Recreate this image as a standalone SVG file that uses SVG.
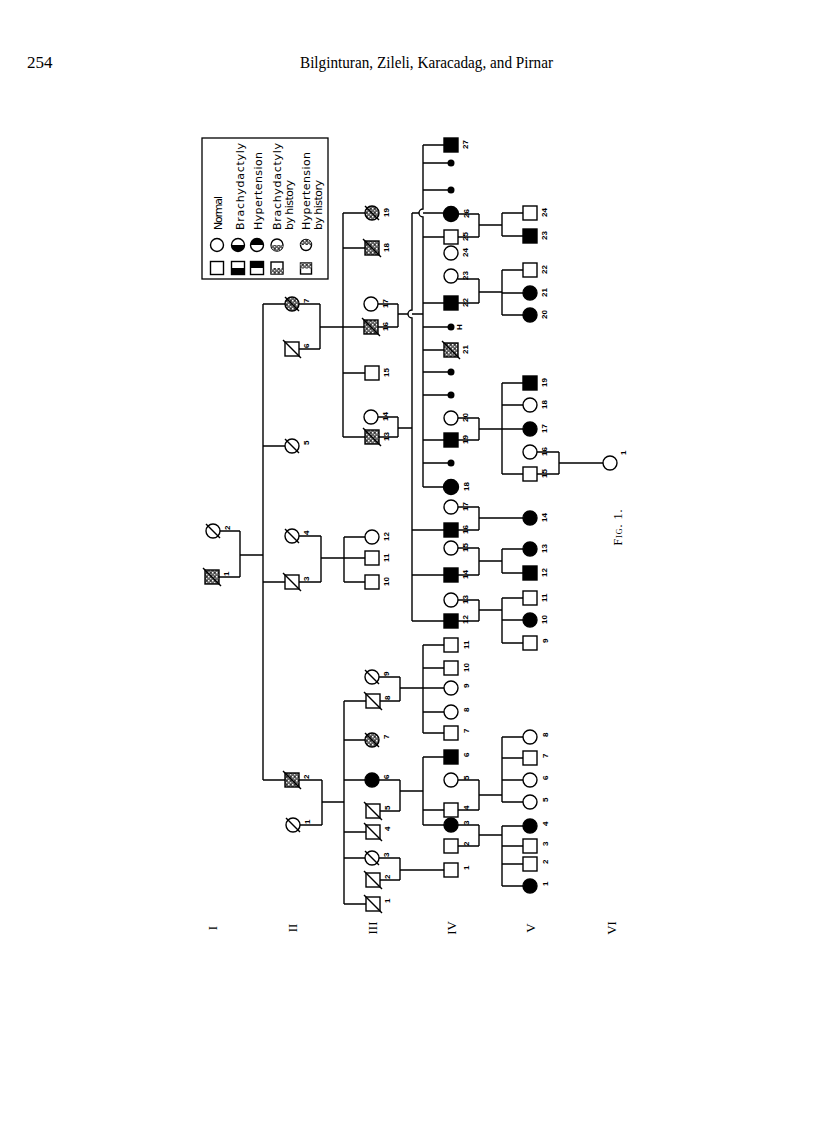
<svg xmlns="http://www.w3.org/2000/svg" width="816" height="1142" viewBox="0 0 816 1142">
<defs>
<pattern id="st" width="4" height="4" patternUnits="userSpaceOnUse">
<rect width="4" height="4" fill="#666"/>
<rect x="0" y="0" width="1.4" height="1.4" fill="#fff"/>
<rect x="2" y="2" width="1.2" height="1.2" fill="#ddd"/>
<rect x="2.2" y="0.2" width="1.2" height="1.2" fill="#111"/>
</pattern>
<style>
.s{fill:#fff;stroke:#000;stroke-width:1.4}
.f{fill:#000;stroke:#000;stroke-width:1.4}
.h{fill:url(#st);stroke:#000;stroke-width:1.4}
.x{stroke:#000;stroke-width:1.4}
.d{fill:#000}
.t{font-family:"Liberation Sans",Arial,sans-serif;font-weight:bold;font-size:8px;fill:#000}
.g{font-family:"Liberation Serif","Times New Roman",serif;font-size:13px;fill:#000}
.hd{font-family:"Liberation Serif","Times New Roman",serif;font-size:17px;fill:#000}
.lg{font-family:"DejaVu Sans",sans-serif;font-size:11px;fill:#000}
.c path{fill:none;stroke:#000;stroke-width:1.4}
</style>
</defs>
<rect width="816" height="1142" fill="#fff"/>

<g id="header">
<text class="hd" x="27" y="68">254</text>
<text class="hd" x="300" y="68" textLength="253" lengthAdjust="spacingAndGlyphs">Bilginturan, Zileli, Karacadag, and Pirnar</text>
</g>

<g id="legend">
<rect x="202" y="138" width="126" height="141" fill="none" stroke="#000" stroke-width="1.3"/>
<circle class="s" cx="217" cy="245" r="6.5"/>
<rect class="s" x="210.5" y="261.5" width="13" height="13"/>
<circle class="s" cx="238" cy="245" r="6.5"/>
<path d="M231.5,245 A6.5,6.5 0 0 0 244.5,245 Z" fill="#000"/>
<rect class="s" x="231.5" y="261.5" width="13" height="13"/>
<rect x="231.5" y="268" width="13" height="6.5" fill="#000"/>
<circle class="s" cx="257" cy="245" r="6.5"/>
<path d="M250.5,245 A6.5,6.5 0 0 1 263.5,245 Z" fill="#000"/>
<rect class="s" x="250.5" y="261.5" width="13" height="13"/>
<rect x="250.5" y="261.5" width="13" height="6.5" fill="#000"/>
<circle class="s" cx="277" cy="245" r="6"/>
<path d="M271,245 A6,6 0 0 0 283,245 Z" fill="url(#st)"/>
<rect class="s" x="271" y="262" width="12" height="12"/>
<rect x="271" y="268" width="12" height="6" fill="url(#st)"/>
<circle class="s" cx="306" cy="245" r="5.5"/>
<path d="M300.5,245 A5.5,5.5 0 0 1 311.5,245 Z" fill="url(#st)"/>
<rect class="s" x="300.5" y="263" width="11" height="11"/>
<rect x="300.5" y="263" width="11" height="5.5" fill="url(#st)"/>
<text class="lg" transform="translate(222,230) rotate(-90)" textLength="34">Normal</text>
<text class="lg" transform="translate(244,230) rotate(-90)" textLength="87">Brachydactyly</text>
<text class="lg" transform="translate(262,230) rotate(-90)" textLength="78">Hypertension</text>
<text class="lg" transform="translate(281,230) rotate(-90)" textLength="87">Brachydactyly</text>
<text class="lg" transform="translate(293,230) rotate(-90)" textLength="50">by history</text>
<text class="lg" transform="translate(310,230) rotate(-90)" textLength="78">Hypertension</text>
<text class="lg" transform="translate(322,230) rotate(-90)" textLength="50">by history</text>
</g>

<g id="generations">
<text class="g" text-anchor="middle" transform="translate(217,928) rotate(-90)">I</text>
<text class="g" text-anchor="middle" transform="translate(297,928) rotate(-90)">II</text>
<text class="g" text-anchor="middle" transform="translate(377,928) rotate(-90)">III</text>
<text class="g" text-anchor="middle" transform="translate(456,928) rotate(-90)">IV</text>
<text class="g" text-anchor="middle" transform="translate(535,928) rotate(-90)">V</text>
<text class="g" text-anchor="middle" transform="translate(616,928) rotate(-90)">VI</text>
</g>

<g id="caption">
<text class="g" style="font-size:12px;font-variant:small-caps;letter-spacing:1px" text-anchor="middle" transform="translate(622,527) rotate(-90)">Fig. 1.</text>
</g>

<g class="c" id="connectors">
<path d="M220,531H240 M219,577H240 M240,531V577 M240,555H263"/>
<path d="M263,304V780 M263,304H285 M263,446H285 M263,582H285 M263,780H285"/>
<path d="M299,304H320 M299,349H320 M320,304V349 M320,327H343"/>
<path d="M299,536H321 M299,582H321 M321,536V582 M321,558H344"/>
<path d="M299,780H322 M300,825H322 M322,780V825 M322,802H344"/>
<path d="M343,213V437 M343,213H365 M343,248H365 M343,327H364 M343,373H365 M343,437H365"/>
<path d="M378,304H398 M378,327H398 M398,304V327 M398,314H408 M412,314H423"/>
<path d="M378,417H398 M379,437H398 M398,417V437 M398,428H412"/>
<path d="M344,537V582 M344,537H365 M344,558H365 M344,582H365"/>
<path d="M344,701V904 M344,701H366 M344,740H365 M344,780H365 M344,832H366 M344,858H365 M344,904H366"/>
<path d="M379,677H400 M380,701H400 M400,677V701 M400,688H423"/>
<path d="M379,780H400 M380,811H400 M400,780V811 M400,791H423"/>
<path d="M379,858H400 M380,880H400 M400,858V880 M400,870H444"/>
<path d="M423,645V733 M423,645H444 M423,668H444 M423,688H444 M423,712H444 M423,733H444"/>
<path d="M423,757V825 M423,757H444 M423,810H444 M423,825H444"/>
<path d="M412,213V310 A4,4 0 0 0 412,318 V621 M412,213H419 M423,213H443 M412,530H444 M412,575H444 M412,621H444"/>
<path d="M423,145V209 A4,4 0 0 0 423,217 V487 M423,145H444 M423,163H448 M423,190H448 M423,237H444 M423,303H444 M423,327H448 M423,350H444 M423,372H448 M423,395H448 M423,440H444 M423,463H448 M423,487H443"/>
<path d="M459,214H479 M458,237H479 M479,214V237 M479,225H502 M502,213V236 M502,213H523 M502,236H523"/>
<path d="M458,279H479 M458,303H479 M479,279V303 M479,292H502 M502,270V315 M502,270H523 M502,293H523 M502,315H523"/>
<path d="M458,418H479 M458,440H479 M479,418V440 M479,429H502 M502,383V474 M502,383H523 M502,405H523 M502,429H523 M502,474H523"/>
<path d="M537,452H559 M537,474H559 M559,452V474 M559,463H603"/>
<path d="M458,507H479 M458,530H479 M479,507V530 M479,518H523"/>
<path d="M458,548H479 M458,575H479 M479,548V575 M479,561H502 M502,549V573 M502,549H523 M502,573H523"/>
<path d="M458,600H479 M458,621H479 M479,600V621 M479,610H502 M502,598V643 M502,598H523 M502,620H523 M502,643H523"/>
<path d="M458,780H479 M458,810H479 M479,780V810 M479,795H502 M502,737V802 M502,737H523 M502,758H523 M502,780H523 M502,802H523"/>
<path d="M458,825H479 M458,846H479 M479,825V846 M479,835H502 M502,826V886 M502,826H523 M502,846H523 M502,864H523 M502,886H523"/>
</g>

<g id="I-1"><rect class="h" x="205" y="570" width="14" height="14"/><line class="x" x1="203" y1="568" x2="221" y2="586"/><text class="t" transform="translate(229,576) rotate(-90)">1</text></g>
<g id="I-2"><circle class="s" cx="213" cy="531" r="7"/><line class="x" x1="206" y1="524" x2="220" y2="538"/><text class="t" transform="translate(230,530) rotate(-90)">2</text></g>

<g id="II-1"><circle class="s" cx="293" cy="825" r="7"/><line class="x" x1="286" y1="818" x2="300" y2="832"/><text class="t" transform="translate(310,824) rotate(-90)">1</text></g>
<g id="II-2"><rect class="h" x="285" y="773" width="14" height="14"/><line class="x" x1="283" y1="771" x2="301" y2="789"/><text class="t" transform="translate(309,779) rotate(-90)">2</text></g>
<g id="II-3"><rect class="s" x="285" y="575" width="14" height="14"/><line class="x" x1="283" y1="573" x2="301" y2="591"/><text class="t" transform="translate(309,581) rotate(-90)">3</text></g>
<g id="II-4"><circle class="s" cx="292" cy="536" r="7"/><line class="x" x1="285" y1="529" x2="299" y2="543"/><text class="t" transform="translate(309,535) rotate(-90)">4</text></g>
<g id="II-5"><circle class="s" cx="292" cy="446" r="7"/><line class="x" x1="285" y1="439" x2="299" y2="453"/><text class="t" transform="translate(309,445) rotate(-90)">5</text></g>
<g id="II-6"><rect class="s" x="285" y="342" width="14" height="14"/><line class="x" x1="283" y1="340" x2="301" y2="358"/><text class="t" transform="translate(309,348) rotate(-90)">6</text></g>
<g id="II-7"><circle class="h" cx="292" cy="304" r="7"/><line class="x" x1="285" y1="297" x2="299" y2="311"/><text class="t" transform="translate(309,303) rotate(-90)">7</text></g>

<g id="III-1"><rect class="s" x="366" y="897" width="14" height="14"/><line class="x" x1="364" y1="895" x2="382" y2="913"/><text class="t" transform="translate(390,903) rotate(-90)">1</text></g>
<g id="III-2"><rect class="s" x="366" y="873" width="14" height="14"/><line class="x" x1="364" y1="871" x2="382" y2="889"/><text class="t" transform="translate(390,879) rotate(-90)">2</text></g>
<g id="III-3"><circle class="s" cx="372" cy="858" r="7"/><line class="x" x1="365" y1="851" x2="379" y2="865"/><text class="t" transform="translate(389,857) rotate(-90)">3</text></g>
<g id="III-4"><rect class="s" x="366" y="825" width="14" height="14"/><line class="x" x1="364" y1="823" x2="382" y2="841"/><text class="t" transform="translate(390,831) rotate(-90)">4</text></g>
<g id="III-5"><rect class="s" x="366" y="804" width="14" height="14"/><line class="x" x1="364" y1="802" x2="382" y2="820"/><text class="t" transform="translate(390,810) rotate(-90)">5</text></g>
<g id="III-6"><circle class="f" cx="372" cy="780" r="7"/><text class="t" transform="translate(389,779) rotate(-90)">6</text></g>
<g id="III-7"><circle class="h" cx="372" cy="740" r="7"/><line class="x" x1="365" y1="733" x2="379" y2="747"/><text class="t" transform="translate(389,739) rotate(-90)">7</text></g>
<g id="III-8"><rect class="s" x="366" y="694" width="14" height="14"/><line class="x" x1="364" y1="692" x2="382" y2="710"/><text class="t" transform="translate(390,700) rotate(-90)">8</text></g>
<g id="III-9"><circle class="s" cx="372" cy="677" r="7"/><line class="x" x1="365" y1="670" x2="379" y2="684"/><text class="t" transform="translate(389,676) rotate(-90)">9</text></g>
<g id="III-10"><rect class="s" x="365" y="575" width="14" height="14"/><text class="t" transform="translate(389,586) rotate(-90)">10</text></g>
<g id="III-11"><rect class="s" x="365" y="551" width="14" height="14"/><text class="t" transform="translate(389,562) rotate(-90)">11</text></g>
<g id="III-12"><circle class="s" cx="372" cy="537" r="7"/><text class="t" transform="translate(389,541) rotate(-90)">12</text></g>
<g id="III-13"><rect class="h" x="365" y="430" width="14" height="14"/><line class="x" x1="363" y1="428" x2="381" y2="446"/><text class="t" transform="translate(389,441) rotate(-90)">13</text></g>
<g id="III-14"><circle class="s" cx="371" cy="417" r="7"/><text class="t" transform="translate(388,421) rotate(-90)">14</text></g>
<g id="III-15"><rect class="s" x="365" y="366" width="14" height="14"/><text class="t" transform="translate(389,377) rotate(-90)">15</text></g>
<g id="III-16"><rect class="h" x="364" y="320" width="14" height="14"/><line class="x" x1="362" y1="318" x2="380" y2="336"/><text class="t" transform="translate(388,331) rotate(-90)">16</text></g>
<g id="III-17"><circle class="s" cx="371" cy="304" r="7"/><text class="t" transform="translate(388,308) rotate(-90)">17</text></g>
<g id="III-18"><rect class="h" x="365" y="241" width="14" height="14"/><line class="x" x1="363" y1="239" x2="381" y2="257"/><text class="t" transform="translate(389,252) rotate(-90)">18</text></g>
<g id="III-19"><circle class="h" cx="372" cy="213" r="7"/><line class="x" x1="365" y1="206" x2="379" y2="220"/><text class="t" transform="translate(389,217) rotate(-90)">19</text></g>

<g id="IV-1"><rect class="s" x="444" y="863" width="14" height="14"/><text class="t" transform="translate(469,870) rotate(-90)">1</text></g>
<g id="IV-2"><rect class="s" x="444" y="839" width="14" height="14"/><text class="t" transform="translate(469,846) rotate(-90)">2</text></g>
<g id="IV-3"><circle class="f" cx="451" cy="825" r="7"/><text class="t" transform="translate(469,825) rotate(-90)">3</text></g>
<g id="IV-4"><rect class="s" x="444" y="803" width="14" height="14"/><text class="t" transform="translate(469,810) rotate(-90)">4</text></g>
<g id="IV-5"><circle class="s" cx="451" cy="780" r="7"/><text class="t" transform="translate(469,780) rotate(-90)">5</text></g>
<g id="IV-6"><rect class="f" x="444" y="750" width="14" height="14"/><text class="t" transform="translate(469,757) rotate(-90)">6</text></g>
<g id="IV-7"><rect class="s" x="444" y="726" width="14" height="14"/><text class="t" transform="translate(469,733) rotate(-90)">7</text></g>
<g id="IV-8"><circle class="s" cx="451" cy="712" r="7"/><text class="t" transform="translate(469,712) rotate(-90)">8</text></g>
<g id="IV-9"><circle class="s" cx="451" cy="688" r="7"/><text class="t" transform="translate(469,688) rotate(-90)">9</text></g>
<g id="IV-10"><rect class="s" x="444" y="661" width="14" height="14"/><text class="t" transform="translate(469,672) rotate(-90)">10</text></g>
<g id="IV-11"><rect class="s" x="444" y="638" width="14" height="14"/><text class="t" transform="translate(469,649) rotate(-90)">11</text></g>
<g id="IV-12"><rect class="f" x="444" y="614" width="14" height="14"/><text class="t" transform="translate(468,624) rotate(-90)">12</text></g>
<g id="IV-13"><circle class="s" cx="451" cy="600" r="7"/><text class="t" transform="translate(468,604) rotate(-90)">13</text></g>
<g id="IV-14"><rect class="f" x="444" y="568" width="14" height="14"/><text class="t" transform="translate(468,579) rotate(-90)">14</text></g>
<g id="IV-15"><circle class="s" cx="451" cy="548" r="7"/><text class="t" transform="translate(468,552) rotate(-90)">15</text></g>
<g id="IV-16"><rect class="f" x="444" y="523" width="14" height="14"/><text class="t" transform="translate(468,534) rotate(-90)">16</text></g>
<g id="IV-17"><circle class="s" cx="451" cy="507" r="7"/><text class="t" transform="translate(468,511) rotate(-90)">17</text></g>
<g id="IV-18"><circle class="f" cx="451" cy="487" r="7.5"/><text class="t" transform="translate(469,491) rotate(-90)">18</text></g>
<g id="IV-d1"><circle class="d" cx="451" cy="463" r="3.5"/></g>
<g id="IV-19"><rect class="f" x="444" y="433" width="14" height="14"/><text class="t" transform="translate(468,444) rotate(-90)">19</text></g>
<g id="IV-20"><circle class="s" cx="451" cy="418" r="7"/><text class="t" transform="translate(468,422) rotate(-90)">20</text></g>
<g id="IV-d2"><circle class="d" cx="451" cy="395" r="3.5"/></g>
<g id="IV-d3"><circle class="d" cx="451" cy="372" r="3.5"/></g>
<g id="IV-21"><rect class="h" x="444" y="343" width="14" height="14"/><line class="x" x1="442" y1="341" x2="460" y2="359"/><text class="t" transform="translate(468,354) rotate(-90)">21</text></g>
<g id="IV-dH"><circle class="d" cx="451" cy="327" r="3.5"/><text class="t" transform="translate(462,330) rotate(-90)">H</text></g>
<g id="IV-22"><rect class="f" x="444" y="296" width="14" height="14"/><text class="t" transform="translate(468,307) rotate(-90)">22</text></g>
<g id="IV-23"><circle class="s" cx="451" cy="276" r="7"/><text class="t" transform="translate(468,280) rotate(-90)">23</text></g>
<g id="IV-24"><circle class="s" cx="451" cy="253" r="7"/><text class="t" transform="translate(468,257) rotate(-90)">24</text></g>
<g id="IV-25"><rect class="s" x="444" y="230" width="14" height="14"/><text class="t" transform="translate(468,241) rotate(-90)">25</text></g>
<g id="IV-26"><circle class="f" cx="451" cy="214" r="7.5"/><text class="t" transform="translate(469,218) rotate(-90)">26</text></g>
<g id="IV-d4"><circle class="d" cx="451" cy="190" r="3.5"/></g>
<g id="IV-d5"><circle class="d" cx="451" cy="163" r="3.5"/></g>
<g id="IV-27"><rect class="f" x="444" y="138" width="14" height="14"/><text class="t" transform="translate(468,149) rotate(-90)">27</text></g>

<g id="V-1"><circle class="f" cx="530" cy="886" r="7"/><text class="t" transform="translate(548,886) rotate(-90)">1</text></g>
<g id="V-2"><rect class="s" x="523" y="857" width="14" height="14"/><text class="t" transform="translate(548,864) rotate(-90)">2</text></g>
<g id="V-3"><rect class="s" x="523" y="839" width="14" height="14"/><text class="t" transform="translate(548,846) rotate(-90)">3</text></g>
<g id="V-4"><circle class="f" cx="530" cy="826" r="7"/><text class="t" transform="translate(548,826) rotate(-90)">4</text></g>
<g id="V-5"><circle class="s" cx="530" cy="802" r="7"/><text class="t" transform="translate(548,802) rotate(-90)">5</text></g>
<g id="V-6"><circle class="s" cx="530" cy="780" r="7"/><text class="t" transform="translate(548,780) rotate(-90)">6</text></g>
<g id="V-7"><rect class="s" x="523" y="751" width="14" height="14"/><text class="t" transform="translate(548,758) rotate(-90)">7</text></g>
<g id="V-8"><circle class="s" cx="530" cy="737" r="7"/><text class="t" transform="translate(548,737) rotate(-90)">8</text></g>
<g id="V-9"><rect class="s" x="523" y="636" width="14" height="14"/><text class="t" transform="translate(548,643) rotate(-90)">9</text></g>
<g id="V-10"><circle class="f" cx="530" cy="620" r="7"/><text class="t" transform="translate(547,624) rotate(-90)">10</text></g>
<g id="V-11"><rect class="s" x="523" y="591" width="14" height="14"/><text class="t" transform="translate(547,602) rotate(-90)">11</text></g>
<g id="V-12"><rect class="f" x="523" y="566" width="14" height="14"/><text class="t" transform="translate(547,577) rotate(-90)">12</text></g>
<g id="V-13"><circle class="f" cx="530" cy="549" r="7"/><text class="t" transform="translate(547,553) rotate(-90)">13</text></g>
<g id="V-14"><circle class="f" cx="530" cy="518" r="7"/><text class="t" transform="translate(547,522) rotate(-90)">14</text></g>
<g id="V-15"><rect class="s" x="523" y="467" width="14" height="14"/><text class="t" transform="translate(547,478) rotate(-90)">15</text></g>
<g id="V-16"><circle class="s" cx="530" cy="452" r="7"/><text class="t" transform="translate(547,456) rotate(-90)">16</text></g>
<g id="V-17"><circle class="f" cx="530" cy="429" r="7"/><text class="t" transform="translate(547,433) rotate(-90)">17</text></g>
<g id="V-18"><circle class="s" cx="530" cy="405" r="7"/><text class="t" transform="translate(547,409) rotate(-90)">18</text></g>
<g id="V-19"><rect class="f" x="523" y="376" width="14" height="14"/><text class="t" transform="translate(547,387) rotate(-90)">19</text></g>
<g id="V-20"><circle class="f" cx="530" cy="315" r="7"/><text class="t" transform="translate(547,319) rotate(-90)">20</text></g>
<g id="V-21"><circle class="f" cx="530" cy="293" r="7"/><text class="t" transform="translate(547,297) rotate(-90)">21</text></g>
<g id="V-22"><rect class="s" x="523" y="263" width="14" height="14"/><text class="t" transform="translate(547,274) rotate(-90)">22</text></g>
<g id="V-23"><rect class="f" x="523" y="229" width="14" height="14"/><text class="t" transform="translate(547,240) rotate(-90)">23</text></g>
<g id="V-24"><rect class="s" x="523" y="206" width="14" height="14"/><text class="t" transform="translate(547,217) rotate(-90)">24</text></g>

<g id="VI-1"><circle class="s" cx="610" cy="463" r="7"/><text class="t" transform="translate(626,455) rotate(-90)">1</text></g>
</svg>
